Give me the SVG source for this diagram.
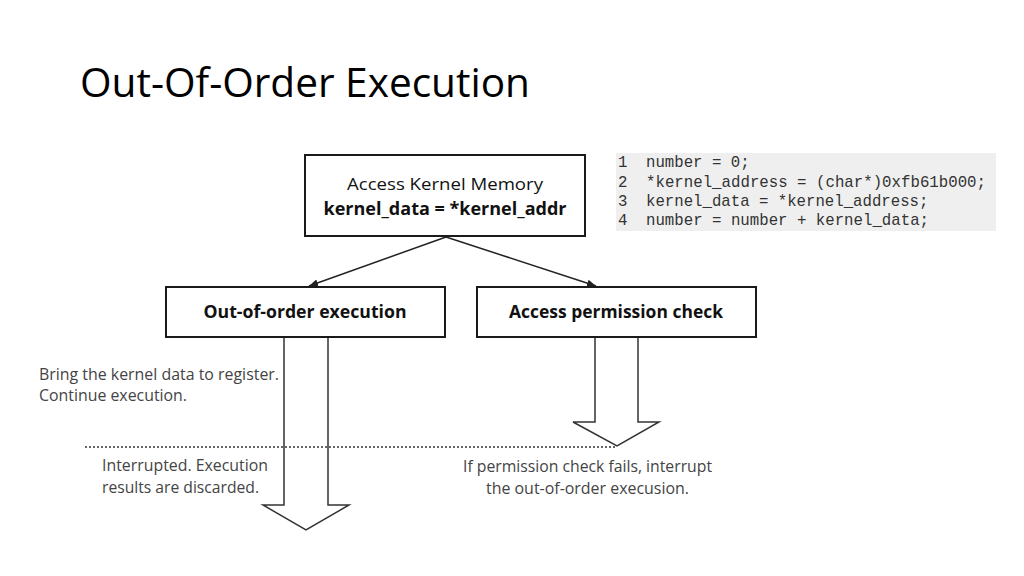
<svg xmlns="http://www.w3.org/2000/svg" width="1024" height="576" viewBox="0 0 1024 576">
<defs>
<style>
.t{font-family:"Open Sans","Liberation Sans",sans-serif;}
.box{fill:#fff;stroke:#1a1a1a;stroke-width:2;}
.lbl{font-family:"Open Sans","Liberation Sans",sans-serif;font-size:17px;fill:#111;text-anchor:middle;}
.b{font-weight:bold;}
.note{font-family:"Open Sans","Liberation Sans",sans-serif;font-size:16px;fill:#444;}
.code{font-family:"Liberation Mono","DejaVu Sans Mono",monospace;font-size:15.7px;fill:#333;}
.conn{stroke:#222;stroke-width:1.5;fill:none;}
.big{fill:#fff;stroke:#333;stroke-width:1.5;}
</style>
<marker id="ah" viewBox="0 0 10 10" refX="10" refY="5" markerWidth="9" markerHeight="9" orient="auto" markerUnits="userSpaceOnUse">
<path d="M0,1 L10,5 L0,9 Z" fill="#222"/>
</marker>
</defs>
<rect width="1024" height="576" fill="#fff"/>
<text class="t" x="80" y="97" font-size="40" fill="#000" textLength="450" lengthAdjust="spacingAndGlyphs">Out-Of-Order Execution</text>

<g id="code">
<rect x="616" y="153" width="380" height="78" fill="#efefef"/>
<text class="code" x="618" y="167">1</text><text class="code" x="646" y="167">number = 0;</text>
<text class="code" x="618" y="187">2</text><text class="code" x="646" y="187" textLength="340" lengthAdjust="spacingAndGlyphs">*kernel_address = (char*)0xfb61b000;</text>
<text class="code" x="618" y="206">3</text><text class="code" x="646" y="206">kernel_data = *kernel_address;</text>
<text class="code" x="618" y="225">4</text><text class="code" x="646" y="225" textLength="283" lengthAdjust="spacingAndGlyphs">number = number + kernel_data;</text>
</g>

<g id="connectors">
<line class="conn" x1="446" y1="237" x2="309" y2="286" marker-end="url(#ah)"/>
<line class="conn" x1="446" y1="237" x2="596" y2="286" marker-end="url(#ah)"/>
<path class="big" d="M284,337 L284,505 L263,505 L306,530 L349,505 L328,505 L328,337"/>
<path class="big" d="M595,337 L595,422 L573,422 L617,446 L659,422 L638,422 L638,337"/>
<line x1="85" y1="447" x2="617" y2="447" stroke="#333" stroke-width="1.5" stroke-dasharray="2,2"/>
</g>

<g id="top">
<rect class="box" x="305" y="155" width="280" height="81"/>
<text class="lbl" x="445" y="190" textLength="196" lengthAdjust="spacingAndGlyphs">Access Kernel Memory</text>
<text class="lbl b" x="445" y="215" textLength="243" lengthAdjust="spacingAndGlyphs">kernel_data = *kernel_addr</text>
</g>

<g id="ooo">
<rect class="box" x="166" y="287" width="279" height="50"/>
<text class="lbl b" x="305" y="318" textLength="203" lengthAdjust="spacingAndGlyphs">Out-of-order execution</text>
</g>

<g id="perm">
<rect class="box" x="477" y="287" width="279" height="50"/>
<text class="lbl b" x="616" y="318" textLength="214" lengthAdjust="spacingAndGlyphs">Access permission check</text>
</g>

<g id="notes">
<text class="note" x="39" y="380" textLength="240" lengthAdjust="spacingAndGlyphs">Bring the kernel data to register.</text>
<text class="note" x="39" y="401" textLength="148" lengthAdjust="spacingAndGlyphs">Continue execution.</text>
<text class="note" x="102" y="471" textLength="166" lengthAdjust="spacingAndGlyphs">Interrupted. Execution</text>
<text class="note" x="102" y="493" textLength="157" lengthAdjust="spacingAndGlyphs">results are discarded.</text>
<text class="note" x="463" y="472" textLength="249" lengthAdjust="spacingAndGlyphs">If permission check fails, interrupt</text>
<text class="note" x="486" y="494" textLength="203" lengthAdjust="spacingAndGlyphs">the out-of-order execusion.</text>
</g>
</svg>
